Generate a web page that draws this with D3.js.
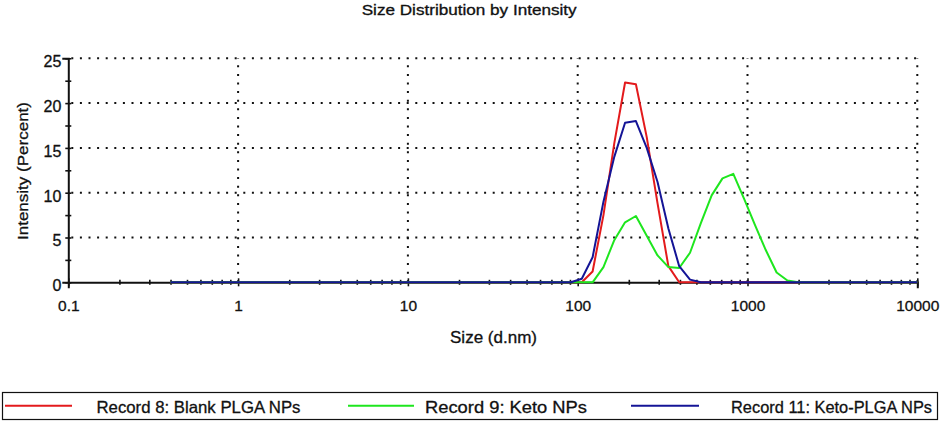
<!DOCTYPE html>
<html>
<head>
<meta charset="utf-8">
<script src="https://cdn.jsdelivr.net/npm/d3@7"></script>
<style>
  body { margin: 0; background: #fff; }
  svg { display: block; font-family: "Liberation Sans", Arial, sans-serif; }
  svg text { stroke: #111; stroke-width: 0.3px; }
</style>
</head>
<body>
<div id="chart"></div>
<script>
// size classes (d.nm), 70 log spaced bins of the instrument
var sizes = [0.4, 0.4632, 0.5365, 0.6213, 0.7195, 0.8332, 0.9649, 1.117, 1.294, 1.499,
    1.736, 2.01, 2.328, 2.696, 3.122, 3.615, 4.187, 4.849, 5.615, 6.503,
    7.531, 8.721, 10.1, 11.7, 13.54, 15.69, 18.17, 21.04, 24.36, 28.21,
    32.67, 37.84, 43.82, 50.75, 58.77, 68.06, 78.82, 91.28, 105.7, 122.4,
    141.8, 164.2, 190.1, 220.2, 255.0, 295.3, 342.0, 396.1, 458.7, 531.2,
    615.1, 712.4, 825.0, 955.4, 1106, 1281, 1484, 1718, 1990, 2305,
    2669, 3091, 3580, 4145, 4801, 5560, 6439, 7456, 8635, 10000];

// intensity (percent) per bin
var record8 = [0, 0, 0, 0, 0, 0, 0, 0, 0, 0,
    0, 0, 0, 0, 0, 0, 0, 0, 0, 0,
    0, 0, 0, 0, 0, 0, 0, 0, 0, 0,
    0, 0, 0, 0, 0, 0, 0, 0, 0, 1.2,
    7.5, 15.5, 22.3, 22.1, 16.2, 8.8, 1.8, 0, 0, 0,
    0, 0, 0, 0, 0, 0, 0, 0, 0, 0,
    0, 0, 0, 0, 0, 0, 0, 0, 0, 0];
var record9 = [0, 0, 0, 0, 0, 0, 0, 0, 0, 0,
    0, 0, 0, 0, 0, 0, 0, 0, 0, 0,
    0, 0, 0, 0, 0, 0, 0, 0, 0, 0,
    0, 0, 0, 0, 0, 0, 0, 0, 0, 0,
    1.7, 4.7, 6.7, 7.4, 5.2, 3.0, 1.7, 1.6, 3.3, 6.6,
    9.7, 11.6, 12.1, 9.3, 6.4, 3.6, 1.1, 0.2, 0, 0,
    0, 0, 0, 0, 0, 0, 0, 0, 0, 0];
var record11 = [0, 0, 0, 0, 0, 0, 0, 0, 0, 0,
    0, 0, 0, 0, 0, 0, 0, 0, 0, 0,
    0, 0, 0, 0, 0, 0, 0, 0, 0, 0,
    0, 0, 0, 0, 0, 0, 0, 0, 0.4, 2.8,
    9.0, 14.0, 17.8, 18.0, 15.0, 11.2, 6.0, 1.8, 0.3, 0,
    0, 0, 0, 0, 0, 0, 0, 0, 0, 0,
    0, 0, 0, 0, 0, 0, 0, 0, 0, 0];

var seriesNames = ["Record 8: Blank PLGA NPs", "Record 9: Keto NPs", "Record 11: Keto-PLGA NPs"];
var seriesColors = ["#e31a1c", "#1ee61e", "#141496"];
var xMajor = [0.1, 1, 10, 100, 1000, 10000];
var yTicks = [0, 5, 10, 15, 20, 25];

var width = 941, height = 422;
var plot_left = 68.3, plot_right = 917.3, plot_top = 58.3, plot_bottom = 282.3;

var svg = d3.select("#chart").append("svg")
    .attr("width", width)
    .attr("height", height);

var x = d3.scaleLog().domain([0.1, 10000]).range([plot_left, plot_right]);
var y = d3.scaleLinear().domain([0, 25]).range([plot_bottom, plot_top]);

// title
svg.append("text")
    .text("Size Distribution by Intensity")
    .attr("x", 361.7)
    .attr("y", 15)
    .attr("font-size", 14)
    .attr("textLength", 215)
    .attr("lengthAdjust", "spacingAndGlyphs")
    .attr("fill", "#111");

// dotted grid
var grid = svg.append("g").attr("id", "grid");
grid.selectAll(".vgrid")
    .data(xMajor.slice(1))
    .enter()
    .append("line")
    .attr("class", "vgrid")
    .attr("x1", function(d) { return x(d); })
    .attr("x2", function(d) { return x(d); })
    .attr("y1", plot_bottom)
    .attr("y2", plot_top)
    .attr("stroke", "#111")
    .attr("stroke-width", 2)
    .attr("stroke-dasharray", "2,6.6");
grid.selectAll(".hgrid")
    .data(yTicks.slice(1))
    .enter()
    .append("line")
    .attr("class", "hgrid")
    .attr("x1", plot_left + 3)
    .attr("x2", plot_right)
    .attr("y1", function(d) { return y(d); })
    .attr("y2", function(d) { return y(d); })
    .attr("stroke", "#111")
    .attr("stroke-width", 2)
    .attr("stroke-dasharray", "2,6.6");

// x axis, ticks at every 1..9 x decade
var xTickVals = [];
for (var e = -1; e < 4; e++) {
    for (var m = 1; m < 10; m++) {
        xTickVals.push(m * Math.pow(10, e));
    }
}
xTickVals.push(10000);

var xAxis = svg.append("g")
    .attr("transform", "translate(0," + plot_bottom + ")")
    .call(d3.axisBottom(x)
        .tickValues(xTickVals)
        .tickFormat(function(d) {
            return xMajor.indexOf(d) >= 0 ? (d < 1 ? "0.1" : d3.format("d")(d)) : "";
        }));
xAxis.select(".domain").attr("stroke", "#111").attr("stroke-width", 2);
xAxis.selectAll(".tick line")
    .attr("stroke", "#111")
    .attr("stroke-width", 1.6)
    .attr("y1", function(d) { return xMajor.indexOf(d) >= 0 ? -4 : -2.5; })
    .attr("y2", function(d) { return xMajor.indexOf(d) >= 0 ? 4 : 2.5; });
xAxis.selectAll(".tick text")
    .attr("y", 29)
    .attr("dy", 0)
    .attr("font-size", 15.5)
    .attr("font-family", "Liberation Sans, Arial, sans-serif")
    .attr("fill", "#111");

// y axis
var yMinor = d3.range(0, 25.1, 2.5);
var yAxis = svg.append("g")
    .attr("transform", "translate(" + plot_left + ",0)")
    .call(d3.axisLeft(y)
        .tickValues(yMinor)
        .tickFormat(function(d) { return d % 5 === 0 ? d : ""; }));
yAxis.select(".domain").attr("stroke", "#111").attr("stroke-width", 2);
yAxis.selectAll(".tick line")
    .attr("stroke", "#111")
    .attr("stroke-width", 1.6)
    .attr("x1", -3)
    .attr("x2", 3);
yAxis.selectAll(".tick text")
    .attr("x", -7)
    .attr("dy", 8.4)
    .attr("font-size", 16)
    .attr("font-family", "Liberation Sans, Arial, sans-serif")
    .attr("fill", "#111");

// axis titles
svg.append("text")
    .text("Size (d.nm)")
    .attr("x", 450)
    .attr("y", 343)
    .attr("font-size", 16)
    .attr("textLength", 87)
    .attr("lengthAdjust", "spacingAndGlyphs")
    .attr("fill", "#111");

svg.append("text")
    .text("Intensity (Percent)")
    .attr("transform", "translate(28,240) rotate(-90)")
    .attr("font-size", 15.5)
    .attr("textLength", 138)
    .attr("lengthAdjust", "spacingAndGlyphs")
    .attr("fill", "#111");

// curves
var allSeries = [record8, record9, record11];
var line = d3.line()
    .x(function(d, i) { return x(sizes[i]); })
    .y(function(d) { return y(d); });

svg.append("g")
    .attr("id", "curves")
    .selectAll("path")
    .data(allSeries)
    .enter()
    .append("path")
    .attr("d", line)
    .attr("fill", "none")
    .attr("stroke", function(d, i) { return seriesColors[i]; })
    .attr("stroke-width", 2)
    .attr("stroke-linejoin", "round");

// legend
var legend = svg.append("g").attr("id", "legend");
legend.append("rect")
    .attr("x", 2.5)
    .attr("y", 392.5)
    .attr("width", 935)
    .attr("height", 27)
    .attr("fill", "#fff")
    .attr("stroke", "#111")
    .attr("stroke-width", 1.2);

var legendLine = [[5, 72], [348, 414], [631, 699]];
var legendText = [[96.5, 204], [425, 162], [731, 201]];

var item = legend.selectAll(".legend_item")
    .data(seriesNames)
    .enter()
    .append("g")
    .attr("class", "legend_item");

item.append("line")
    .attr("x1", function(d, i) { return legendLine[i][0]; })
    .attr("x2", function(d, i) { return legendLine[i][1]; })
    .attr("y1", 405.7)
    .attr("y2", 405.7)
    .attr("stroke", function(d, i) { return seriesColors[i]; })
    .attr("stroke-width", 2);

item.append("text")
    .text(function(d) { return d; })
    .attr("x", function(d, i) { return legendText[i][0]; })
    .attr("y", 412.5)
    .attr("font-size", 16.5)
    .attr("textLength", function(d, i) { return legendText[i][1]; })
    .attr("lengthAdjust", "spacingAndGlyphs")
    .attr("fill", "#111");
</script>
</body>
</html>
